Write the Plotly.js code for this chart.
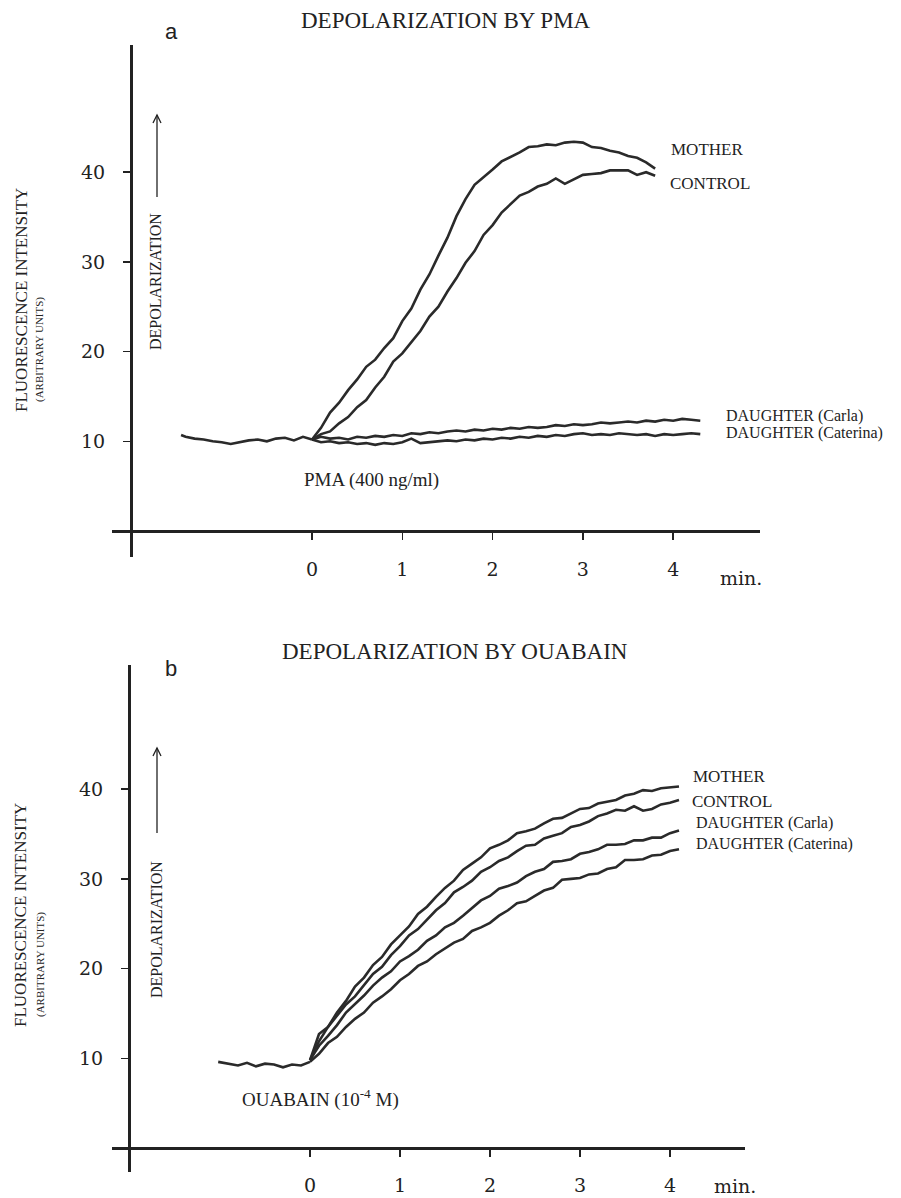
<!DOCTYPE html>
<html>
<head>
<meta charset="utf-8">
<script src="https://cdn.plot.ly/plotly-3.0.1.min.js"></script>
<style>html,body{margin:0;padding:0;background:#fff;}#chart{width:901px;height:1198px;}</style>
</head>
<body>
<div id="chart"></div>
<script>
// ---------- DATA ----------
// Panel a : depolarization by PMA
var preA_t = [-1.45,-1.4,-1.3,-1.2,-1.1,-1.0,-0.9,-0.8,-0.7,-0.6,-0.5,-0.4,-0.3,-0.2,-0.1,0];
var preA_y = [10.7,10.5,10.3,10.2,10.0,9.9,9.7,9.9,10.1,10.2,10.0,10.3,10.4,10.1,10.5,10.2];

var tA = [0,0.1,0.2,0.3,0.4,0.5,0.6,0.7,0.8,0.9,1.0,1.1,1.2,1.3,1.4,1.5,1.6,1.7,1.8,1.9,2.0,2.1,2.2,2.3,2.4,2.5,2.6,2.7,2.8,2.9,3.0,3.1,3.2,3.3,3.4,3.5,3.6,3.7,3.8];
var motherA  = [10.2,11.5,13.2,14.3,15.7,16.9,18.3,19.1,20.4,21.5,23.4,24.8,26.9,28.6,30.7,32.7,35.1,37.0,38.6,39.4,40.3,41.2,41.7,42.2,42.8,42.9,43.1,43.0,43.3,43.4,43.3,42.8,42.7,42.4,42.2,41.8,41.6,41.1,40.4];
var controlA = [10.2,10.8,11.1,12.0,12.7,13.8,14.6,16.0,17.2,18.9,19.8,21.1,22.3,23.9,25.0,26.7,28.2,29.9,31.2,33.0,34.1,35.5,36.5,37.4,37.8,38.4,38.7,39.3,38.7,39.2,39.7,39.8,39.9,40.2,40.2,40.2,39.7,40.0,39.6];

var tAD = [0,0.1,0.2,0.3,0.4,0.5,0.6,0.7,0.8,0.9,1.0,1.1,1.2,1.3,1.4,1.5,1.6,1.7,1.8,1.9,2.0,2.1,2.2,2.3,2.4,2.5,2.6,2.7,2.8,2.9,3.0,3.1,3.2,3.3,3.4,3.5,3.6,3.7,3.8,3.9,4.0,4.1,4.2,4.3];
var carlaA    = [10.2,10.5,10.3,10.4,10.2,10.5,10.4,10.6,10.5,10.7,10.6,10.9,10.8,11.0,10.9,11.1,11.2,11.1,11.3,11.2,11.4,11.3,11.5,11.4,11.6,11.5,11.6,11.8,11.7,11.9,11.8,11.9,12.1,12.0,12.1,12.2,12.1,12.3,12.2,12.4,12.3,12.5,12.4,12.3];
var caterinaA = [10.2,9.9,10.0,9.8,9.9,9.7,9.8,9.6,9.8,9.7,9.9,10.3,9.8,9.9,10.0,10.1,10.0,10.2,10.1,10.3,10.2,10.4,10.3,10.5,10.4,10.6,10.5,10.7,10.6,10.8,10.9,10.7,10.8,10.7,10.9,10.8,10.7,10.8,10.6,10.8,10.7,10.8,10.9,10.8];

// Panel b : depolarization by ouabain
var preB_t = [-1.02,-0.9,-0.8,-0.7,-0.6,-0.5,-0.4,-0.3,-0.2,-0.1,0];
var preB_y = [9.6,9.4,9.2,9.5,9.1,9.4,9.3,9.0,9.3,9.2,9.6];

var tB = [0,0.1,0.2,0.3,0.4,0.5,0.6,0.7,0.8,0.9,1.0,1.1,1.2,1.3,1.4,1.5,1.6,1.7,1.8,1.9,2.0,2.1,2.2,2.3,2.4,2.5,2.6,2.7,2.8,2.9,3.0,3.1,3.2,3.3,3.4,3.5,3.6,3.7,3.8,3.9,4.0,4.1];
var motherB   = [9.8,12.7,13.5,15.1,16.4,18.0,19.0,20.4,21.3,22.7,23.7,24.7,26.1,26.9,28.0,29.0,29.8,31.0,31.7,32.4,33.4,33.8,34.3,35.1,35.3,35.6,36.2,36.7,36.8,37.3,37.8,37.9,38.4,38.6,38.8,39.3,39.5,39.9,39.8,40.1,40.2,40.3];
var controlB  = [9.8,11.9,13.5,14.7,16.0,16.9,18.1,19.4,20.2,21.5,22.5,23.7,24.4,25.5,26.5,27.3,28.5,29.1,29.8,30.8,31.3,32.0,32.4,33.1,33.7,33.8,34.5,34.8,35.1,35.8,36.0,36.4,37.0,37.3,37.7,37.6,38.1,37.6,37.8,38.3,38.5,38.8];
var carlaB    = [9.8,11.4,12.5,13.7,15.1,16.0,17.0,18.1,19.0,19.7,20.8,21.4,22.1,23.1,23.7,24.6,25.1,25.9,26.7,27.6,28.1,28.9,29.2,29.6,30.3,30.8,31.1,31.9,32.0,32.2,32.8,33.0,33.3,33.8,33.8,33.9,34.3,34.3,34.6,34.6,35.1,35.4];
var caterinaB = [9.6,10.5,11.7,12.4,13.5,14.4,15.1,16.2,16.9,17.7,18.7,19.4,20.3,20.8,21.6,22.3,22.9,23.3,24.2,24.6,25.1,25.9,26.5,27.3,27.5,28.1,28.7,29.0,29.9,30.0,30.1,30.5,30.6,31.1,31.3,32.1,32.1,32.2,32.6,32.7,33.1,33.3];

var xTicks = [0,1,2,3,4];
var yTicks = [10,20,30,40];

// ---------- LAYOUT HELPERS ----------
var W = 901, H = 1198;
function px(x){ return x / W; }
function py(y){ return 1 - y / H; }

var LINE = {color:'#2a2a2a', width:2.6};
function tr(x, y, xa, ya){
  return {x:x, y:y, xaxis:xa, yaxis:ya, type:'scatter', mode:'lines', line:LINE, hoverinfo:'skip', showlegend:false};
}

var traces = [
  tr(preA_t, preA_y, 'x', 'y'),
  tr(tAD, carlaA, 'x', 'y'),
  tr(tAD, caterinaA, 'x', 'y'),
  tr(tA, controlA, 'x', 'y'),
  tr(tA, motherA, 'x', 'y'),
  tr(preB_t, preB_y, 'x2', 'y2'),
  tr(tB, caterinaB, 'x2', 'y2'),
  tr(tB, carlaB, 'x2', 'y2'),
  tr(tB, controlB, 'x2', 'y2'),
  tr(tB, motherB, 'x2', 'y2')
];

var tickFont = {family:'DejaVu Serif', size:19, color:'#222'};
function xAxis(domain, range, pos, standoff){
  return {domain:domain, range:range, anchor:'free', position:pos, showline:true, linecolor:'#222', linewidth:2.5,
          showgrid:false, zeroline:false, tickmode:'array', tickvals:xTicks, ticks:'outside', ticklen:7, tickwidth:1.5,
          tickcolor:'#222', tickfont:tickFont, ticklabelstandoff:standoff, fixedrange:true};
}
function yAxis(domain, range, pos){
  return {domain:domain, range:range, anchor:'free', position:pos, showline:true, linecolor:'#222', linewidth:2.5,
          showgrid:false, zeroline:false, tickmode:'array', tickvals:yTicks, ticks:'outside', ticklen:7, tickwidth:1.5,
          tickcolor:'#222', tickfont:tickFont, ticklabelstandoff:14, fixedrange:true};
}

var serif = 'Liberation Serif';
function txt(text, x, y, size, opts){
  var a = {text:text, x:px(x), y:py(y), xref:'paper', yref:'paper', showarrow:false,
           font:{family:serif, size:size, color:'#222'}, xanchor:'center', yanchor:'middle'};
  for (var k in (opts||{})) a[k] = opts[k];
  return a;
}
// vertical arrow drawn as shapes (shaft + open head)
function arrowShapes(x, yHead, yTail){
  var X = px(x), dx = px(4), headY = py(yHead), baseY = py(yHead + 8);
  return [
    {type:'line', xref:'paper', yref:'paper', x0:X, x1:X, y0:py(yTail), y1:headY, line:{color:'#222', width:1.3}},
    {type:'path', xref:'paper', yref:'paper', path:'M '+(X-dx)+' '+baseY+' L '+X+' '+headY+' L '+(X+dx)+' '+baseY,
     line:{color:'#222', width:1.3}}
  ];
}

var annotations = [
  // panel a
  txt('DEPOLARIZATION BY PMA', 446, 20, 23),
  txt('a', 171, 31, 22, {font:{family:'Liberation Sans', size:22, color:'#222'}}),
  txt('FLUORESCENCE INTENSITY', 21, 300, 17, {textangle:-90}),
  txt('(ARBITRARY UNITS)', 40, 350, 11, {textangle:-90}),
  txt('DEPOLARIZATION', 156, 282, 16, {textangle:-90}),
  txt('MOTHER', 669, 150, 17, {xanchor:'left'}),
  txt('CONTROL', 668, 183, 17, {xanchor:'left'}),
  txt('DAUGHTER (Carla)', 724, 416, 16, {xanchor:'left'}),
  txt('DAUGHTER (Caterina)', 724, 433, 16, {xanchor:'left'}),
  txt('PMA (400 ng/ml)', 302, 480, 19, {xanchor:'left'}),
  txt('min.', 718, 578, 19, {xanchor:'left', font:{family:'DejaVu Serif', size:19, color:'#222'}}),
  // panel b
  txt('DEPOLARIZATION BY OUABAIN', 455, 651, 23),
  txt('b', 171, 668, 22, {font:{family:'Liberation Sans', size:22, color:'#222'}}),
  txt('FLUORESCENCE INTENSITY', 21, 915, 17, {textangle:-90}),
  txt('(ARBITRARY UNITS)', 40, 965, 11, {textangle:-90}),
  txt('DEPOLARIZATION', 156, 930, 16, {textangle:-90}),
  txt('MOTHER', 691, 776, 17, {xanchor:'left'}),
  txt('CONTROL', 690, 801, 17, {xanchor:'left'}),
  txt('DAUGHTER (Carla)', 694, 823, 16, {xanchor:'left'}),
  txt('DAUGHTER (Caterina)', 694, 844, 16, {xanchor:'left'}),
  txt('OUABAIN (10<sup>-4</sup> M)', 240, 1098, 19, {xanchor:'left'}),
  txt('min.', 712, 1186, 19, {xanchor:'left', font:{family:'DejaVu Serif', size:19, color:'#222'}})
];

var shapes = [].concat(arrowShapes(157, 115, 197), arrowShapes(157, 748, 833));

// panel a geometry: x=0 at px 312, 90.3 px/min ; y=0 at py 531, 8.97 px/unit
var layout = {
  width:W, height:H, margin:{l:0, r:0, t:0, b:0}, paper_bgcolor:'#fff', plot_bgcolor:'rgba(0,0,0,0)',
  showlegend:false,
  xaxis:  xAxis([px(112), px(760)], [(112-312)/90.3, (760-312)/90.3], py(531), 14),
  yaxis:  yAxis([py(557), py(45)], [(531-557)/8.97, (531-45)/8.97], px(131)),
  xaxis2: xAxis([px(112), px(745)], [(112-310)/90, (745-310)/90], py(1148), 13),
  yaxis2: yAxis([py(1172), py(665)], [(1148-1172)/8.97, (1148-665)/8.97], px(129)),
  annotations:annotations,
  shapes:shapes
};

Plotly.newPlot('chart', traces, layout, {staticPlot:true, displayModeBar:false});
</script>
</body>
</html>
